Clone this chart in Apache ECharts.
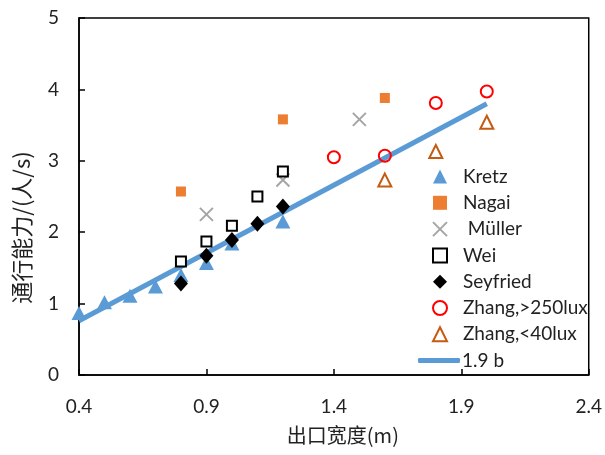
<!DOCTYPE html>
<html>
<head>
<meta charset="utf-8">
<script src="https://cdn.jsdelivr.net/npm/echarts@6/dist/echarts.min.js"></script>
<style>
  html, body { margin: 0; padding: 0; background: #fff; }
  #chart { width: 605px; height: 455px; }
</style>
</head>
<body>
<div id="chart"></div>
<script>
// exit width (m) and flow (persons/s) per study
const kretzX = [0.4, 0.5, 0.6, 0.7, 0.8, 0.9, 1.0, 1.2];
const kretzY = [0.87, 1.02, 1.11, 1.24, 1.40, 1.57, 1.84, 2.15];
const nagaiX = [0.8, 1.2, 1.6];
const nagaiY = [2.57, 3.58, 3.88];
const mullerX = [0.9, 1.2, 1.5];
const mullerY = [2.25, 2.73, 3.58];
const weiX = [0.8, 0.9, 1.0, 1.1, 1.2];
const weiY = [1.59, 1.87, 2.09, 2.50, 2.85];
const seyfriedX = [0.8, 0.9, 1.0, 1.1, 1.2];
const seyfriedY = [1.28, 1.67, 1.89, 2.12, 2.36];
const zhangBrightX = [1.4, 1.6, 1.8, 2.0];
const zhangBrightY = [3.05, 3.07, 3.81, 3.97];
const zhangDarkX = [1.6, 1.8, 2.0];
const zhangDarkY = [2.73, 3.13, 3.54];
const fitX = [0.4, 2.0];
const fitY = [0.76, 3.8];

const markerNames = ['Kretz', 'Nagai', ' Müller', 'Wei', 'Seyfried', 'Zhang,>250lux', 'Zhang,<40lux'];
const lineName = '1.9 b';

const xTicks = { min: 0.4, max: 2.4, step: 0.5 };
const yTicks = { min: 0, max: 5, step: 1 };

const pairs = (xs, ys) => xs.map((x, i) => [x, ys[i]]);

const latin = 'Lato, "Noto Sans", sans-serif';
const cjk = '"Noto Sans CJK SC", Lato, sans-serif';
const legendText = { fontFamily: latin, fontSize: 19, color: '#222', lineHeight: 19 };

const chart = echarts.init(document.getElementById('chart'));

chart.setOption({
  animation: false,
  grid: {
    left: 79, right: 15, top: 18, bottom: 80,
    show: true, borderColor: '#000', borderWidth: 1.5
  },
  legend: [
    {
      orient: 'vertical',
      left: 432,
      top: 167,
      padding: 0,
      itemWidth: 14,
      itemHeight: 14,
      itemGap: 7.3,
      textStyle: Object.assign({ padding: [0, 0, 0, 11] }, legendText),
      data: markerNames
    },
    {
      orient: 'vertical',
      left: 418,
      top: 351,
      padding: 0,
      itemWidth: 42,
      itemHeight: 5,
      textStyle: Object.assign({ padding: [0, 0, 0, -3] }, legendText),
      data: [{ name: lineName, icon: 'roundRect' }]
    }
  ],
  xAxis: {
    type: 'value',
    min: xTicks.min, max: xTicks.max, interval: xTicks.step,
    name: '出口宽度(m)',
    nameLocation: 'middle',
    nameGap: 50,
    nameTextStyle: { fontFamily: cjk, fontSize: 20, color: '#222', padding: [0, 0, 0, 18] },
    axisLine: { lineStyle: { color: '#000', width: 1.5 } },
    axisTick: { inside: true, length: 6, lineStyle: { color: '#000', width: 1.5 } },
    axisLabel: { margin: 22, fontFamily: latin, fontSize: 19, color: '#222', formatter: v => v.toFixed(1) },
    splitLine: { show: false }
  },
  yAxis: {
    type: 'value',
    min: yTicks.min, max: yTicks.max, interval: yTicks.step,
    name: '{n|通行能力/(人/s)}',
    nameLocation: 'middle',
    nameGap: 46,
    nameTextStyle: {
      fontFamily: cjk, fontSize: 22, color: '#222',
      rich: { n: { fontFamily: cjk, fontSize: 22, color: '#222', padding: [0, 62, 0, 0] } }
    },
    axisLine: { lineStyle: { color: '#000', width: 1.5 } },
    axisTick: { inside: true, length: 6, lineStyle: { color: '#000', width: 1.5 } },
    axisLabel: { margin: 20, fontFamily: latin, fontSize: 19, color: '#222' },
    splitLine: { show: false }
  },
  series: [
    {
      name: lineName, type: 'line', z: 1,
      data: pairs(fitX, fitY),
      showSymbol: false, symbol: 'none',
      lineStyle: { color: '#5B9BD5', width: 5 },
      itemStyle: { color: '#5B9BD5' }
    },
    {
      name: 'Kretz', type: 'scatter', z: 2, symbol: 'triangle', symbolSize: [15, 14],
      data: pairs(kretzX, kretzY),
      itemStyle: { color: '#5B9BD5', opacity: 1 }
    },
    {
      name: 'Nagai', type: 'scatter', z: 3, symbol: 'rect', symbolSize: 10,
      data: pairs(nagaiX, nagaiY),
      itemStyle: { color: '#ED7D31', opacity: 1 }
    },
    {
      name: ' Müller', type: 'scatter', z: 3, symbol: 'path://M0,0L10,10M10,0L0,10', symbolSize: 13,
      data: pairs(mullerX, mullerY),
      itemStyle: { color: 'rgba(0,0,0,0)', borderColor: '#A5A5A5', borderWidth: 2, opacity: 1 }
    },
    {
      name: 'Wei', type: 'scatter', z: 3, symbol: 'rect', symbolSize: 10,
      data: pairs(weiX, weiY),
      itemStyle: { color: '#fff', borderColor: '#000', borderWidth: 2, opacity: 1 }
    },
    {
      name: 'Seyfried', type: 'scatter', z: 4, symbol: 'diamond', symbolSize: [14, 16],
      data: pairs(seyfriedX, seyfriedY),
      itemStyle: { color: '#000', opacity: 1 }
    },
    {
      name: 'Zhang,>250lux', type: 'scatter', z: 3, symbol: 'circle', symbolSize: 12,
      data: pairs(zhangBrightX, zhangBrightY),
      itemStyle: { color: 'rgba(0,0,0,0)', borderColor: '#FF0000', borderWidth: 2, opacity: 1 }
    },
    {
      name: 'Zhang,<40lux', type: 'scatter', z: 3, symbol: 'triangle', symbolSize: 13,
      data: pairs(zhangDarkX, zhangDarkY),
      itemStyle: { color: 'rgba(0,0,0,0)', borderColor: '#C55A11', borderWidth: 2, opacity: 1 }
    }
  ]
});
</script>
</body>
</html>
